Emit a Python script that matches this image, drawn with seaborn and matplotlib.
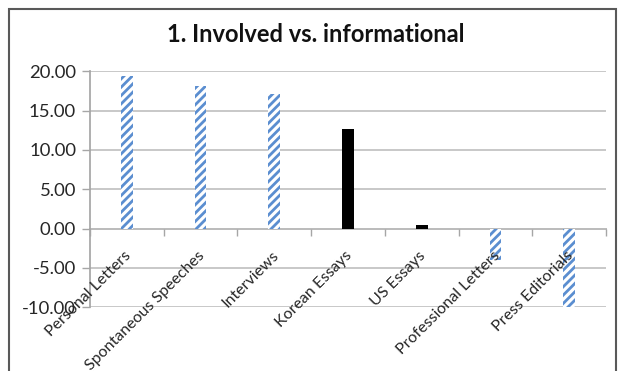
import matplotlib
matplotlib.use("Agg")
import matplotlib.pyplot as plt
import seaborn as sns
import pandas as pd
from matplotlib.patches import Rectangle
from matplotlib.ticker import FixedLocator, FormatStrFormatter

categories = ["Personal Letters", "Spontaneous Speeches", "Interviews", "Korean Essays",
              "US Essays", "Professional Letters", "Press Editorials"]
values = [19.4, 18.1, 17.1, 12.7, 0.4, -4.0, -9.9]
group = ["hatched", "hatched", "hatched", "solid", "solid", "hatched", "hatched"]
title = "1. Involved vs. informational"

sns.set_theme(style="white")
plt.rcParams["font.family"] = ["Lato", "DejaVu Sans"]
plt.rcParams["axes.unicode_minus"] = False
plt.rcParams["hatch.linewidth"] = 2.0

df = pd.DataFrame({"category": categories, "value": values, "group": group})

fig = plt.figure(figsize=(6.22, 3.71), dpi=100)
ax = fig.add_axes([90/622, 1 - 307.3/371, (606-90)/622, (307.3-71.3)/371])

blue = "#5B8ED0"
sns.barplot(data=df, x="category", y="value", order=categories, color="white",
            width=0.16, ax=ax, saturation=1, linewidth=0)
for patch, g in zip(ax.patches, group):
    if g == "hatched":
        patch.set_facecolor("white")
        patch.set_hatch("////")
        patch.set_edgecolor(blue)
        patch.set_linewidth(0)
    else:
        patch.set_facecolor("black")
        patch.set_edgecolor("black")

ax.set_ylim(-10, 20)
ax.set_xlim(-0.5, 6.5)
ax.set_yticks([-10, -5, 0, 5, 10, 15, 20])
ax.yaxis.set_major_formatter(FormatStrFormatter("%.2f"))
ax.yaxis.grid(True, color="#BFBFBF", linewidth=1.2)
ax.set_axisbelow(True)
ax.xaxis.set_zorder(3)

for s in ["top", "right"]:
    ax.spines[s].set_visible(False)
ax.spines["left"].set_color("#A6A6A6")
ax.spines["bottom"].set_color("#A6A6A6")
ax.spines["bottom"].set_position(("data", 0))
ax.spines["bottom"].set_zorder(0.5)

ax.tick_params(axis="y", which="major", length=6, color="#A6A6A6", width=1,
               labelsize=13.3, labelcolor="#262626", pad=4, left=True)
ax.xaxis.set_minor_locator(FixedLocator([i - 0.5 for i in range(8)]))
ax.tick_params(axis="x", which="minor", length=5, color="#A6A6A6", width=1, bottom=True)
ax.tick_params(axis="x", which="major", length=0, labelsize=11.5, labelcolor="#262626", pad=2)
ax.set_xticks(range(len(categories)))
ax.set_xticklabels(categories, rotation=45, ha="right", rotation_mode="anchor")
for lbl in ax.get_xticklabels():
    lbl.set_transform(lbl.get_transform() + matplotlib.transforms.ScaledTranslation(-3/100, -17/100, fig.dpi_scale_trans))
ax.set_xlabel("")
ax.set_ylabel("")

fig.text(316/622, 1 - 34/371, title, ha="center", va="center", fontsize=17,
         fontweight="bold", color="#111111")

fig.patches.append(Rectangle((8.5/622, -0.05), (616-8.5)/622, 1.05 - 8.5/371,
                             transform=fig.transFigure, fill=False,
                             edgecolor="#595959", linewidth=1.5, clip_on=False))

fig.savefig("out.png", dpi=100)
